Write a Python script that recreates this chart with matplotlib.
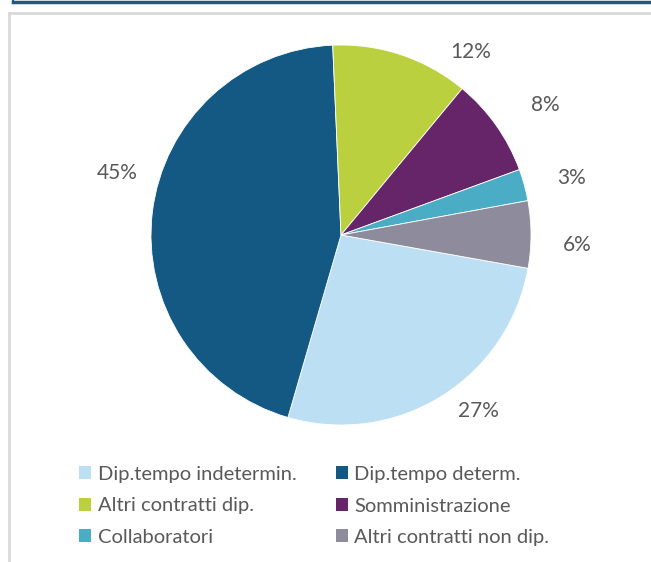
import matplotlib
matplotlib.use("Agg")
import matplotlib.pyplot as plt
from matplotlib.patches import Patch
from matplotlib.lines import Line2D

# dati (quote % per tipo di contratto)
categorie = ["Dip.tempo indetermin.", "Dip.tempo determ.", "Altri contratti dip.",
             "Somministrazione", "Collaboratori", "Altri contratti non dip."]
quote = [26.7, 44.8, 11.7, 8.4, 2.7, 5.7]
colori = ["#BDDFF3", "#135983", "#BBD03E", "#652568", "#4BACC6", "#8D8B9C"]

# posizione etichette (x, y) in unita' del raggio
pos_etichette = [(0.721, -0.926), (-1.179, 0.326), (0.684, 0.963),
                 (1.074, 0.684), (1.211, 0.300), (1.242, -0.053)]

plt.rcParams['font.family'] = ['Lato', 'DejaVu Sans']

W, H = 651, 562
fig = plt.figure(figsize=(W / 100, H / 100), dpi=100)

# cornice
fig.add_artist(Line2D([13 / W, 1], [1 - 1.5 / H, 1 - 1.5 / H], color="#1A5A8A", lw=2.5))
fig.add_artist(Line2D([13 / W, 13 / W], [1, 1 - 3 / H], color="#1A5A8A", lw=1.5))
fig.add_artist(Line2D([9 / W, 1], [1 - 13 / H, 1 - 13 / H], color="#D9D9D9", lw=2))
fig.add_artist(Line2D([9 / W, 9 / W], [0, 1 - 13 / H], color="#D9D9D9", lw=2))

# torta: centro (341, 235) px, raggio 190 px
R = 190
cx, cy = 341, H - 235
ax = fig.add_axes([(cx - 1.5 * R) / W, (cy - 1.5 * R) / H, 3 * R / W, 3 * R / H])
wedges, testi = ax.pie(quote, colors=colori, startangle=-10.1, counterclock=False,
                       wedgeprops=dict(edgecolor="white", linewidth=0.6))
ax.set_xlim(-1.5, 1.5)
ax.set_ylim(-1.5, 1.5)
ax.set_aspect("equal")
ax.axis("off")

for q, (x, y) in zip(quote, pos_etichette):
    ax.text(x, y, f"{q:.0f}%", ha="center", va="center", fontsize=15, color="#595959")

# legenda (ordine per righe)
ordine = [0, 2, 4, 1, 3, 5]
handles = [Patch(facecolor=colori[i], edgecolor="none") for i in ordine]
labels = [categorie[i] for i in ordine]
fig.legend(handles, labels, ncol=2, loc="upper left", bbox_to_anchor=(79 / W, 1 - 466 / H),
           frameon=False, fontsize=14.5, labelcolor="#595959", handlelength=0.62,
           handleheight=0.62, handletextpad=0.3, columnspacing=1.95, labelspacing=0.72,
           borderpad=0, borderaxespad=0)

fig.savefig("out.png", dpi=100)
